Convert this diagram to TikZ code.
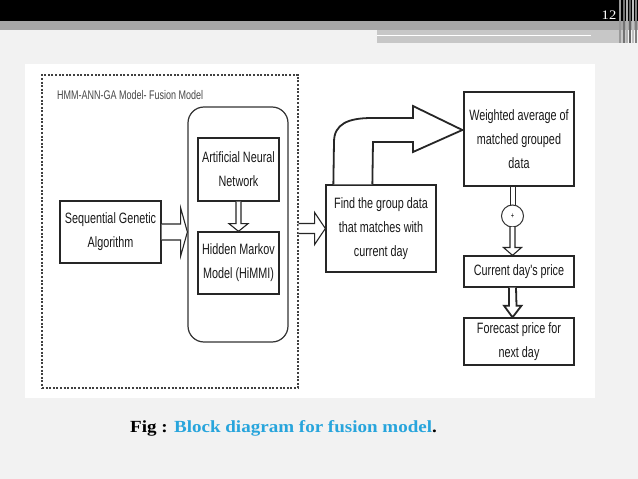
\documentclass[tikz,border=0pt]{standalone}
\usepackage{fontspec}
\usetikzlibrary{calc}
\newfontfamily\dfont[FakeStretch=0.72]{Liberation Sans}
\newfontfamily\capfont[FakeStretch=1.12]{Liberation Serif}
\definecolor{capblue}{RGB}{40,165,220}
\definecolor{bgpage}{RGB}{242,242,242}
\tikzset{
  boxnode/.style={draw=black!85, line width=1.3pt, fill=white, inner sep=0pt, align=center,
    font=\dfont\fontsize{15}{24}\selectfont, text=black!90},
  hollow/.style={draw=black!85, line width=1.1pt, fill=white, line join=miter},
  outerbox/.style={draw=black!75, line width=1.2pt, dash pattern=on 2pt off 1.6pt, inner sep=0pt},
  roundbox/.style={draw=black!80, line width=1.2pt, rounded corners=16pt, inner sep=0pt}
}
\begin{document}
\begin{tikzpicture}[x=1pt,y=-1pt]
\useasboundingbox (0,0) rectangle (638,479);
% page background
\fill[bgpage] (0,0) rectangle (638,479);
\fill[black] (0,0) rectangle (638,21);
\fill[black!35] (0,21) rectangle (638,30);
\fill[black!22] (377,30) rectangle (626,43);
\draw[white, line width=0.8pt] (377,35) -- (591,35);
\foreach \xx/\cc in {620/40,624/55,627/30,630/60,633/25,636/50}{
  \draw[black!\cc, line width=1.2pt] (\xx,0) -- (\xx,43);
}
\node[text=white, font=\capfont\fontsize{13}{13}\selectfont, inner sep=0pt] (pg) at (609,15) {12};
\fill[white] (25,64) rectangle (595,398);

% outer dashed box
\node[outerbox, minimum width=256, minimum height=313] (outer) at (170,231.5) {};
\node[anchor=base west, inner sep=0pt, font=\dfont\fontsize{12.5}{12}\selectfont, text=black!72] (lbl) at (57,99) {HMM-ANN-GA Model- Fusion Model};

% rounded container
\node[roundbox, minimum width=100, minimum height=235] (fusion) at (238,224.5) {};

% boxes
\node[boxnode, minimum width=101, minimum height=62] (sga) at (110.5,232) {Sequential Genetic\\Algorithm};
\node[boxnode, minimum width=81, minimum height=63] (ann) at (238.5,169.5) {Artificial Neural\\Network};
\node[boxnode, minimum width=81, minimum height=62] (hmm) at (238.5,263) {Hidden Markov\\Model (HiMMI)};
\node[boxnode, minimum width=110, minimum height=87] (find) at (381,228.5) {Find the group data\\that matches with\\current day};
\node[boxnode, minimum width=110, minimum height=94] (wavg) at (519,139) {Weighted average of\\matched grouped\\data};
\node[boxnode, minimum width=110, minimum height=31] (cur) at (519,271.5) {Current day's price};
\node[boxnode, minimum width=110, minimum height=47] (fc) at (519,341.5) {Forecast price for\\next day};
\node[circle, draw=black!80, line width=1pt, fill=white, minimum size=22pt, inner sep=0pt,
  font=\dfont\fontsize{8}{8}\selectfont] (plus) at (512.5,216) {+};

% SGA -> fusion
\draw[hollow] ($(sga.east)+(0,-8)$) -- ++(19,0) -- ++(0,-16) -- (sga.east -| fusion.west)
  -- ($(sga.east)+(19,24)$) -- ++(0,-16) -- ($(sga.east)+(0,8)$);
% ANN -> HMM
\draw[hollow] ($(ann.south)+(-2.5,0)$) -- ++(0,22) -- ++(-7,0) -- (hmm.north)
  -- ($(ann.south)+(9.5,22)$) -- ++(-7,0) -- ($(ann.south)+(2.5,0)$);
% fusion -> find
\draw[hollow] ($(outer.east |- find.west)+(0,-5)$) -- ++(16,0) -- ++(0,-11) -- (find.west)
  -- ($(outer.east |- find.west)+(16,16)$) -- ++(0,-11) -- ($(outer.east |- find.west)+(0,5)$);
% find -> weighted average (curved block arrow)
\draw[hollow, line width=1.8pt] ($(find.north west)+(8,0)$) -- (334,142)
  .. controls (334,124) and (348,118) .. (372,118) -- (413,118) -- (413,106)
  -- ($(wavg.west)+(-1,-9)$) -- (413,152) -- (413,142) -- (373,142)
  -- ($(find.north west)+(47,0)$);
% weighted average -> plus
\draw[black!85, line width=1pt] ($(wavg.south -| plus)+(-2.5,0)$) -- ($(plus.north)+(-2.5,0.3)$);
\draw[black!85, line width=1pt] ($(wavg.south -| plus)+(2.5,0)$) -- ($(plus.north)+(2.5,0.3)$);
% plus -> current
\draw[hollow] ($(plus.south)+(-2.5,-0.3)$) -- ($(plus.south)+(-2.5,20)$) -- ++(-6.5,0) -- (plus |- cur.north)
  -- ($(plus.south)+(9,20)$) -- ++(-6.5,0) -- ($(plus.south)+(2.5,-0.3)$);
% current -> forecast
\draw[hollow, line width=1.8pt] ($(plus |- cur.south)+(-3.5,0)$) -- ++(0,18) -- ++(-5,0) -- (plus |- fc.north)
  -- ($(plus |- cur.south)+(9,18)$) -- ++(-5,0) -- ($(plus |- cur.south)+(3.5,0)$);

% caption
\node[anchor=base west, inner sep=0pt, font=\capfont\bfseries\fontsize{17}{20}\selectfont] (cap) at (130,432)
  {Fig : \textcolor{capblue}{Block diagram for fusion model}.};
\end{tikzpicture}
\end{document}
